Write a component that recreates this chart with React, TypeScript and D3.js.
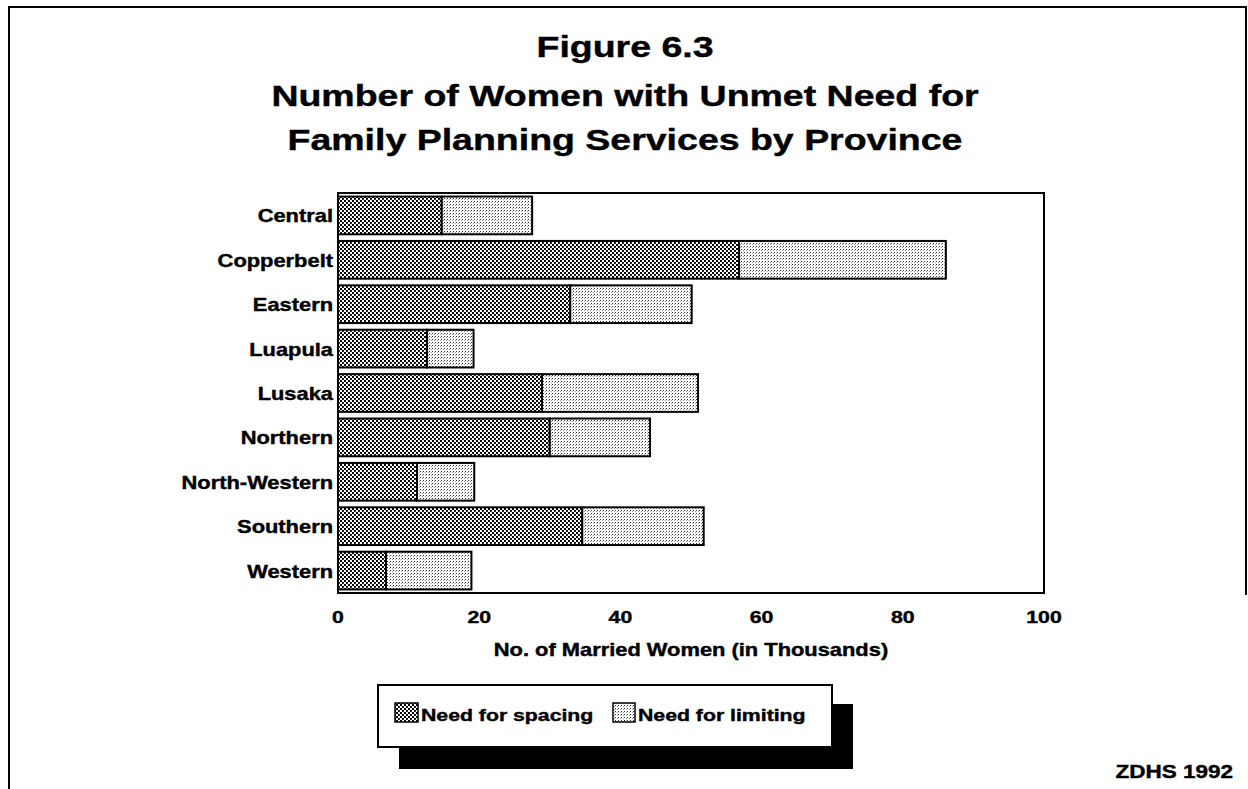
import React from "react";
import * as d3 from "d3";

const provinces = ["Central", "Copperbelt", "Eastern", "Luapula", "Lusaka", "Northern", "North-Western", "Southern", "Western"];
const needSpacing = [14.7, 56.8, 32.9, 12.6, 28.9, 30.0, 11.2, 34.6, 6.8];
const needLimiting = [12.8, 29.3, 17.2, 6.6, 22.1, 14.2, 8.1, 17.2, 12.1];
const xTicks = [0, 20, 40, 60, 80, 100];
const titleLines = ["Figure 6.3", "Number of Women with Unmet Need for", "Family Planning Services by Province"];
const xAxisTitle = "No. of Married Women (in Thousands)";
const legendLabels = ["Need for spacing", "Need for limiting"];
const sourceNote = "ZDHS 1992";

const W = 1248;
const H = 789;
const plot = { left: 338, top: 193, right: 1044, bottom: 593 };
const SX = 1.25;
const FONT = "'Liberation Sans', Arial, Helvetica, sans-serif";

function SText({ x, y, size, anchor = "start", children }: { x: number; y: number; size: number; anchor?: string; children: React.ReactNode }) {
  return (
    <text
      transform={`translate(${x},${y}) scale(${SX},1)`}
      textAnchor={anchor}
      fontFamily={FONT}
      fontWeight="bold"
      fontSize={size}
      fill="#000"
      stroke="#000"
      strokeWidth={0.4}
    >
      {children}
    </text>
  );
}

export default function App() {
  const x = d3.scaleLinear().domain([0, 100]).range([plot.left, plot.right]);
  const y = d3.scaleBand<string>().domain(provinces).range([plot.top, plot.bottom]).paddingInner(0.15).paddingOuter(0.08);
  const stack = provinces.map((p, i) => ({ p, s: needSpacing[i], l: needLimiting[i] }));
  const titleBaselines = [57, 106, 150];

  const legend = { x: 378, y: 685, w: 454, h: 62 };

  return (
    <svg width={W} height={H} style={{ position: "fixed", left: 0, top: 0, background: "#fff" }}>
      <defs>
        <pattern id="pSpacing" width="4" height="4" patternUnits="userSpaceOnUse">
          <rect width="4" height="4" fill="#fff" />
          <rect x="0" y="0" width="2" height="2" fill="#000" />
          <rect x="2" y="2" width="2" height="2" fill="#000" />
          <rect x="1" y="1" width="1" height="1" fill="#000" />
          <rect x="3" y="3" width="1" height="1" fill="#444" />
        </pattern>
        <pattern id="pLimiting" width="3" height="3" patternUnits="userSpaceOnUse">
          <rect width="3" height="3" fill="#fff" />
          <rect x="0" y="0" width="1" height="1" fill="#333" />
          <rect x="2" y="1" width="1" height="1" fill="#999" />
        </pattern>
      </defs>
      <rect width={W} height={H} fill="#fff" />

      {/* outer frame */}
      <path d={`M9,${H} L9,7 L1246,7 L1246,595`} fill="none" stroke="#000" strokeWidth={2} />

      {/* title */}
      {titleLines.map((t, i) => (
        <SText key={i} x={625} y={titleBaselines[i]} size={30} anchor="middle">{t}</SText>
      ))}

      {/* bars */}
      {stack.map((d) => (
        <g key={d.p}>
          <rect x={x(0)} y={y(d.p)} width={x(d.s) - x(0)} height={y.bandwidth()} fill="url(#pSpacing)" stroke="#000" strokeWidth={2} />
          <rect x={x(d.s)} y={y(d.p)} width={x(d.s + d.l) - x(d.s)} height={y.bandwidth()} fill="url(#pLimiting)" stroke="#000" strokeWidth={2} />
        </g>
      ))}

      {/* plot frame */}
      <rect x={plot.left} y={plot.top} width={plot.right - plot.left} height={plot.bottom - plot.top} fill="none" stroke="#000" strokeWidth={2} />

      {/* category labels */}
      {provinces.map((p) => (
        <SText key={p} x={333} y={(y(p) as number) + y.bandwidth() / 2 + 7} size={17.5} anchor="end">{p}</SText>
      ))}

      {/* x tick labels */}
      {xTicks.map((t) => (
        <SText key={t} x={x(t)} y={623} size={17} anchor="middle">{t}</SText>
      ))}

      <SText x={691} y={656} size={17.5} anchor="middle">{xAxisTitle}</SText>

      {/* legend */}
      <rect x={legend.x + 21} y={legend.y + 19} width={legend.w} height={legend.h + 3} fill="#000" />
      <rect x={legend.x} y={legend.y} width={legend.w} height={legend.h} fill="#fff" stroke="#000" strokeWidth={2} />
      <rect x={395} y={703} width={23} height={19} fill="url(#pSpacing)" stroke="#000" strokeWidth={1.5} />
      <SText x={421} y={721} size={17}>{legendLabels[0]}</SText>
      <rect x={613} y={703} width={22} height={19} fill="url(#pLimiting)" stroke="#000" strokeWidth={1.5} />
      <SText x={638} y={721} size={17}>{legendLabels[1]}</SText>

      <SText x={1233} y={778} size={18} anchor="end">{sourceNote}</SText>
    </svg>
  );
}
